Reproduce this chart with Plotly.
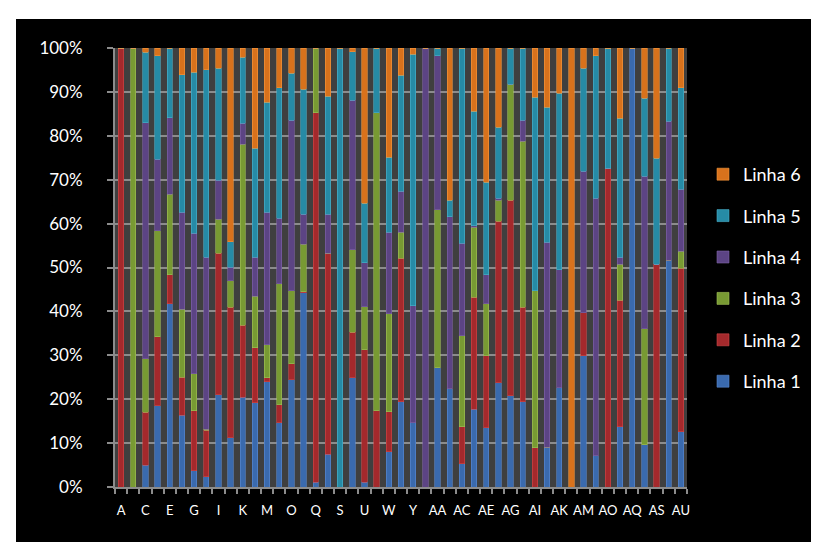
import plotly.graph_objects as go

def col_names(n):
    out = []
    for i in range(n):
        if i < 26:
            out.append(chr(65 + i))
        else:
            out.append("A" + chr(65 + i - 26))
    return out

categories = col_names(47)  # A .. AU

linha1 = [0, 0, 5, 18.5, 41.8, 16.4, 3.7, 2.3, 21, 11.2, 20.5, 19.2, 24, 14.6, 24.4, 44.3,
          1.1, 7.5, 0, 24.9, 1.1, 0, 8, 19.4, 14.6, 0, 27.2, 22.4, 5.3, 17.8, 13.5, 23.7,
          20.8, 19.4, 0, 9.1, 22.6, 0, 29.9, 7.1, 0, 13.7, 100, 9.6, 0, 51.6, 12.6]
linha2 = [100, 0, 12, 15.7, 6.6, 8.6, 13.7, 10.6, 32.2, 29.7, 16.3, 12.5, 0.9, 4.1, 3.7, 0.2,
          84.1, 45.7, 0, 10.3, 30.2, 17.4, 9.1, 32.7, 0, 0, 0, 0, 8.4, 25.6, 16.4, 36.8,
          44.5, 21.5, 8.9, 0, 0, 0, 9.8, 0, 72.6, 28.8, 0, 0, 50.7, 0, 37.2]
linha3 = [0, 100, 12.3, 24.2, 18.3, 15.5, 8.4, 0.3, 7.8, 6.1, 41.3, 11.7, 7.5, 27.6, 16.6, 10.8,
          14.8, 0, 0, 18.9, 9.8, 67.8, 22.4, 5.9, 0, 0, 36, 0, 20.8, 16, 11.9, 4.8,
          26.5, 37.9, 35.8, 0, 0, 0, 0, 0, 0, 8.2, 0, 26.5, 0, 0, 3.9]
linha4 = [0, 0, 53.7, 16.3, 17.4, 22.1, 32, 39.1, 8.9, 3.1, 4.8, 8.9, 30.2, 14.9, 38.9, 6.8,
          0, 8.9, 0, 34, 10, 0, 18.5, 9.4, 26.7, 100, 35, 39.2, 21, 0.3, 6.6, 0.5,
          0, 4.8, 0, 46.6, 26.9, 0, 32.2, 58.7, 0, 1.6, 0, 34.7, 0, 31.7, 14.1]
linha5 = [0, 0, 16.1, 23.5, 15.9, 31.3, 36.7, 42.7, 25.5, 5.8, 15, 24.9, 25.1, 29.7, 10.7, 28.5,
          0, 26.9, 100, 11, 13.5, 14.8, 17.1, 26.4, 57.3, 0, 1.8, 3.7, 44.5, 26.2, 21, 16.2,
          8.2, 16.4, 44.1, 30.8, 40.2, 0, 23.5, 32.4, 27.4, 31.7, 0, 17.8, 24.2, 16.7, 23.1]
linha6 = [0, 0, 1, 1.8, 0, 6.1, 5.5, 5, 4.6, 44.1, 2.1, 22.8, 12.3, 9.1, 5.7, 9.4,
          0, 11, 0, 0.9, 35.4, 0, 24.9, 6.2, 1.4, 0, 0, 34.7, 0, 14.4, 30.6, 18,
          0, 0, 11.2, 13.5, 10.3, 100, 4.6, 1.8, 0, 16, 0, 11.4, 25.1, 0, 9.1]

series = [
    ("Linha 1", linha1, "#3a6aae", "#5b8ad0"),
    ("Linha 2", linha2, "#a4292c", "#d04a4a"),
    ("Linha 3", linha3, "#789a33", "#a2c258"),
    ("Linha 4", linha4, "#5c4484", "#8064a8"),
    ("Linha 5", linha5, "#268ba6", "#4cb2cc"),
    ("Linha 6", linha6, "#d8721c", "#f5983e"),
]

y_ticks = [0, 10, 20, 30, 40, 50, 60, 70, 80, 90, 100]
x_ticktext = [c if i % 2 == 0 else "" for i, c in enumerate(categories)]

fig = go.Figure()
n = len(series)
for i, (name, vals, col, edge) in enumerate(series):
    fig.add_trace(go.Bar(
        x=categories, y=vals, name=name,
        marker=dict(color=col, line=dict(color=edge, width=0.6)),
        legendgroup="g%d" % i, legendrank=n - i,
    ))

# plot area in pixels: x 107..679, y 40..479
W, H = 819, 542
L, R, T, B = 107, W - 679, 40, H - 479
pw, ph = 679 - 107, 479 - 40

def px_x(x):
    return (x - L) / pw

def px_y(y):
    return (479 - y) / ph

fig.update_layout(
    width=W, height=H,
    margin=dict(l=L, r=R, t=T, b=B, pad=0),
    barmode="stack", barnorm="percent", bargap=0.56,
    paper_bgcolor="#000000", plot_bgcolor="#3f3f3f",
    font=dict(family="Lato, Open Sans, sans-serif", color="#ffffff"),
    showlegend=True,
    legend=dict(
        x=px_x(695), y=px_y(270), xanchor="left", yanchor="middle",
        traceorder="grouped", tracegroupgap=15,
        font=dict(size=18, color="#ffffff"), bgcolor="rgba(0,0,0,0)",
    ),
    xaxis=dict(
        type="category", tickmode="array", tickvals=categories, ticktext=x_ticktext,
        tickson="boundaries", ticks="outside", ticklen=5, tickcolor="#8c8c8c", tickwidth=1.5,
        showline=True, linecolor="#8c8c8c", linewidth=2, showgrid=False,
        tickfont=dict(size=13, color="#ffffff"), ticklabelstandoff=10, tickangle=0,
        range=[-0.5, len(categories) - 0.5],
    ),
    yaxis=dict(
        range=[0, 100], tickmode="array", tickvals=y_ticks,
        ticktext=["%d%%" % v for v in y_ticks],
        ticks="outside", ticklen=6, tickcolor="#8c8c8c", tickwidth=1.5,
        showline=True, linecolor="#8c8c8c", linewidth=2,
        showgrid=True, gridcolor="#8c8c8c", gridwidth=1.5,
        tickfont=dict(size=17, color="#ffffff"), ticklabelstandoff=21,
        zeroline=False,
    ),
    shapes=[
        dict(type="rect", xref="paper", yref="paper", layer="above",
             x0=px_x(0), x1=px_x(8), y0=px_y(H + 5), y1=px_y(-5),
             fillcolor="#ffffff", line=dict(width=0)),
        dict(type="rect", xref="paper", yref="paper", layer="above",
             x0=px_x(0), x1=px_x(W + 5), y0=px_y(11), y1=px_y(-5),
             fillcolor="#ffffff", line=dict(width=0)),
    ],
)

fig.write_html("out.html")
